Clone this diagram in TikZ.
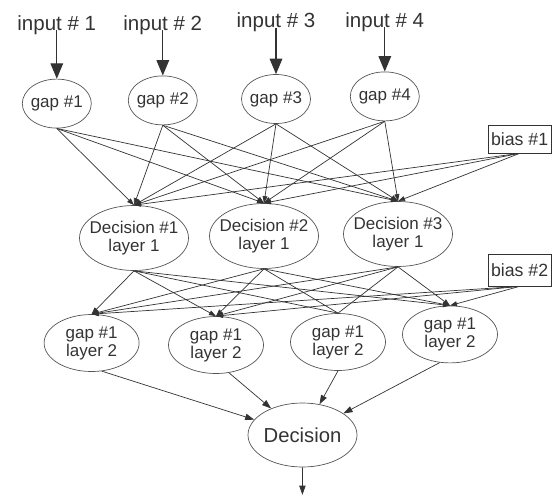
\documentclass[tikz,border=0pt]{standalone}
\usepackage{fontspec}
\setmainfont{Liberation Sans}
\usetikzlibrary{arrows.meta,shapes.geometric}
\definecolor{ink}{HTML}{333333}
\definecolor{rim}{HTML}{555555}

\begin{document}
\begin{tikzpicture}[
  every node/.style={text=ink},
  blob/.style={draw=rim, line width=0.5pt, ellipse, inner sep=-1cm, align=center,
    font=\fontsize{12.1}{12.8}\selectfont},
  gapnode/.style={blob, minimum width=1.725cm, minimum height=1.225cm},
  decnode/.style={blob, minimum width=2.725cm, minimum height=1.625cm},
  laynode/.style={blob, minimum width=2.375cm, minimum height=1.425cm},
  biasbox/.style={draw=ink, line width=0.5pt, minimum width=1.575cm, inner sep=0pt,
    font=\fontsize{12.6}{14}\selectfont},
  feed/.style={draw=ink, line width=0.5pt, -{Triangle[length=5pt,width=3.5pt]}},
  nohead/.style={draw=ink, line width=0.5pt},
  outfeed/.style={draw=ink, line width=0.5pt, -{Triangle[length=6.5pt,width=4.5pt]}},
  inarrow/.style={draw=ink, line width=0.8pt, -{Triangle[length=11pt,width=9pt]}}
]
\useasboundingbox (0,0) rectangle (13.8,12.4);
%Inputs
\node[anchor=base, font=\fontsize{14.6}{16}\selectfont] (in1) at (1.42,11.65) {input \# 1};
\node[anchor=base, font=\fontsize{14.6}{16}\selectfont] (in2) at (4.07,11.65) {input \# 2};
\node[anchor=base, font=\fontsize{14.6}{16}\selectfont] (in3) at (6.9,11.7) {input \# 3};
\node[anchor=base, font=\fontsize{14.6}{16}\selectfont] (in4) at (9.62,11.725) {input \# 4};
%Gaps
\node[gapnode] (g1) at (1.42,9.81) {gap \#1};
\node[gapnode] (g2) at (4.07,9.89) {gap \#2};
\node[gapnode] (g3) at (6.9,9.925) {gap \#3};
\node[gapnode] (g4) at (9.62,9.99) {gap \#4};
\draw[inarrow] (in1.base) -- (g1);
\draw[inarrow] (in2.base) -- (g2);
\draw[inarrow] (in3.base) -- (g3);
\draw[inarrow] (in4.base) -- (g4);
%Layer 1
\node[decnode] (d1) at (3.35,6.45) {Decision \#1\\layer 1};
\node[decnode] (d2) at (6.6,6.5) {Decision \#2\\layer 1};
\node[decnode] (d3) at (9.95,6.55) {Decision \#3\\layer 1};
\node[biasbox, minimum height=0.7cm] (bias1) at (12.99,8.925) {bias \#1};
\draw[feed] (g1.south) -- (d1.north);
\draw[feed] (g1.south) -- (d2.north);
\draw[feed] (g1.south) -- (d3.north);
\draw[feed] (g2.south) -- (d1.north);
\draw[feed] (g2.south) -- (d2.north);
\draw[feed] (g2.south) -- (d3.north);
\draw[feed] (g3.south) -- (d1.north);
\draw[feed] (g3.south) -- (d2.north);
\draw[feed] (g3.south) -- (d3.north);
\draw[feed] (g4.south) -- (d1.north);
\draw[feed] (g4.south) -- (d2.north);
\draw[feed] (g4.south) -- (d3.north);
\draw[feed] (bias1.south) -- (d1.north);
\draw[feed] (bias1.south) -- (d2.north);
\draw[feed] (bias1.south) -- (d3.north);
%Layer 2
\node[laynode] (l2a) at (2.29,3.825) {gap \#1\\layer 2};
\node[laynode] (l2b) at (5.4,3.775) {gap \#1\\layer 2};
\node[laynode] (l2c) at (8.45,3.85) {gap \#1\\layer 2};
\node[laynode] (l2d) at (11.25,4.04) {gap \#1\\layer 2};
\node[biasbox, minimum height=0.8cm] (bias2) at (12.99,5.65) {bias \#2};
\draw[feed] (d1.south) -- (l2a.north);
\draw[feed] (d1.south) -- (l2b.north);
\draw[nohead] (d1.south) -- (l2c.north);
\draw[feed] (d1.south) -- (l2d.north);
\draw[feed] (d2.south) -- (l2a.north);
\draw[feed] (d2.south) -- (l2b.north);
\draw[nohead] (d2.south) -- (l2c.north);
\draw[feed] (d2.south) -- (l2d.north);
\draw[feed] (d3.south) -- (l2a.north);
\draw[feed] (d3.south) -- (l2b.north);
\draw[nohead] (d3.south) -- (l2c.north);
\draw[feed] (d3.south) -- (l2d.north);
\draw[feed] (bias2.south) -- (l2a.north);
\draw[feed] (bias2.south) -- (l2b.north);
\draw[feed] (bias2.south) -- (l2d.north);
%Decision
\node[blob, minimum width=2.725cm, minimum height=1.6cm, font=\fontsize{14.4}{16}\selectfont]
  (dec) at (7.5625,1.525) {Decision};
\coordinate (out) at (7.56,0.03);
\draw[outfeed] (l2a.-70) -- (dec);
\draw[outfeed] (l2b.-65) -- (dec);
\draw[outfeed] (l2c.south) -- (dec);
\draw[outfeed] (l2d.-110) -- (dec);
\draw[outfeed] (dec.south) -- (out);
\end{tikzpicture}
\end{document}
